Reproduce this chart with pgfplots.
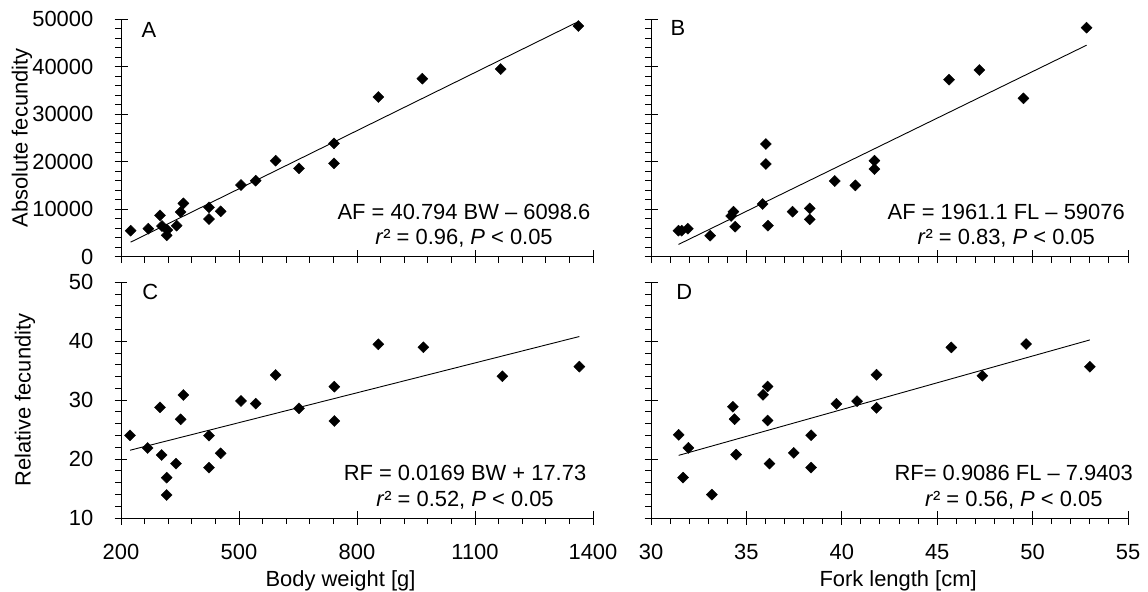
\documentclass[border=0pt]{standalone}
\usepackage{pgfplots}
\pgfplotsset{compat=1.18}
\usepackage{fontspec}
\setmainfont{Liberation Sans}

\newcommand{\fs}{\fontsize{22}{27}\selectfont}

\pgfplotsset{
  panel/.style={
    scale only axis,
    anchor=south west,
    axis x line=bottom,
    axis y line=left,
    axis line style={-, line width=1bp},
    every tick/.style={black, line width=1bp},
    tick align=center,
    major tick length=13bp,
    minor tick length=6bp,
    minor x tick style={yshift=-3bp},
    minor y tick style={xshift=-3bp},
    minor tick num=4,
    font=\fs,
    ticklabel style={font=\fs, inner sep=0pt},
    yticklabel style={anchor=east, xshift=-21bp},
    xticklabel style={anchor=north, yshift=-19.5bp},
    /pgf/number format/assume math mode=true,
    /pgf/number format/1000 sep={},
    scaled y ticks=false,
    scaled x ticks=false,
    clip=false,
  },
  pts/.style={only marks, mark=square*, mark size=3.9bp,
    mark options={rotate=45, fill=black, draw=black}},
  fit/.style={black, line width=0.9bp, no marks},
}

\begin{document}
\begin{tikzpicture}
\useasboundingbox (0,0) rectangle (1148bp,592bp);

% A: absolute fecundity vs body weight
\begin{axis}[panel,
  at={(121bp,335.3bp)}, width=472bp, height=237.5bp,
  xmin=200, xmax=1400, xtick={200,500,800,1100,1400}, xticklabels={},
  ymin=0, ymax=50000, ytick={0,10000,...,50000},
  ylabel={Absolute fecundity},
  every axis y label/.style={at={(axis description cs:-0.2097,0.5)}, rotate=90, anchor=center},
]
\addplot[pts] coordinates {
 (224.6,5474) (269.5,5895) (299.1,8702) (304.2,6456) (318.0,5614) (316.1,4491)
 (341.5,6527) (351.7,9404) (358.5,11229) (423.7,10386) (423.7,7930) (453.4,9544)
 (505.1,15088) (542.4,16001) (593.2,20211) (652.5,18598) (741.5,23861) (741.5,19650)
 (854.2,33616) (966.1,37476) (1165.3,39511) (1362.7,48564)
};
\addplot[fit] coordinates {(224.6,3064) (1362.7,49492)};
\node[anchor=west] at (rel axis cs:0.036,0.9545) {A};
\node[anchor=base] at (rel axis cs:0.7267,0.1587) {AF = 40.794 BW – 6098.6};
\node[anchor=base] at (rel axis cs:0.7267,0.0493) {\textit{r}² = 0.96, \textit{P} < 0.05};
\end{axis}

% B: absolute fecundity vs fork length
\begin{axis}[panel,
  at={(651bp,335.3bp)}, width=477bp, height=237.5bp,
  xmin=30, xmax=55, xtick={30,35,...,55}, xticklabels={},
  ymin=0, ymax=50000, ytick={0,10000,...,50000}, yticklabels={},
]
\addplot[pts] coordinates {
 (31.44,5474) (31.61,5474) (31.93,5895) (33.10,4421) (34.20,8562) (34.32,9474)
 (34.41,6316) (35.85,11088) (36.02,23721) (36.02,19510) (36.13,6527) (37.42,9474)
 (38.32,10176) (38.32,7860) (39.63,15931) (40.71,15019) (41.71,20212) (41.71,18457)
 (45.62,37266) (47.21,39300) (49.52,33340) (52.83,48217)
};
\addplot[fit] coordinates {(31.44,2581) (52.83,44529)};
\node[anchor=west] at (rel axis cs:0.0336,0.961) {B};
\node[anchor=base] at (rel axis cs:0.7447,0.1587) {AF = 1961.1 FL – 59076};
\node[anchor=base] at (rel axis cs:0.7447,0.0493) {\textit{r}² = 0.83, \textit{P} < 0.05};
\end{axis}

% C: relative fecundity vs body weight
\begin{axis}[panel,
  at={(121bp,74bp)}, width=472bp, height=235.7bp,
  xmin=200, xmax=1400, xtick={200,500,800,1100,1400},
  ymin=10, ymax=50, ytick={10,20,...,50},
  xlabel={Body weight [g]},
  every axis x label/.style={at={(axis description cs:0.465,-0.2927)}, anchor=base},
  ylabel={Relative fecundity},
  every axis y label/.style={at={(axis description cs:-0.2034,0.5)}, rotate=90, anchor=center},
]
\addplot[pts] coordinates {
 (222.9,24.03) (267.8,21.88) (299.1,28.78) (303.4,20.69) (316.1,16.85) (316.1,13.90)
 (339.8,19.22) (351.7,26.75) (358.5,30.88) (423.7,23.97) (423.7,18.54) (453.4,20.98)
 (505.1,29.86) (542.4,29.41) (593.2,34.27) (652.5,28.61) (742.4,32.29) (742.4,26.46)
 (854.2,39.48) (968.7,38.97) (1169.5,34.05) (1365.3,35.69)
};
\addplot[fit] coordinates {(222.9,21.50) (1365.3,40.80)};
\node[anchor=west] at (rel axis cs:0.038,0.959) {C};
\node[anchor=base] at (rel axis cs:0.7288,0.16) {RF = 0.0169 BW + 17.73};
\node[anchor=base] at (rel axis cs:0.7288,0.0496) {\textit{r}² = 0.52, \textit{P} < 0.05};
\end{axis}

% D: relative fecundity vs fork length
\begin{axis}[panel,
  at={(651bp,74bp)}, width=477bp, height=235.7bp,
  xmin=30, xmax=55, xtick={30,35,...,55},
  ymin=10, ymax=50, ytick={10,20,...,50}, yticklabels={},
  xlabel={Fork length [cm]},
  every axis x label/.style={at={(axis description cs:0.518,-0.2927)}, anchor=base},
]
\addplot[pts] coordinates {
 (31.45,24.11) (31.68,16.86) (31.96,21.90) (33.19,13.97) (34.29,28.87) (34.38,26.77)
 (34.46,20.76) (35.87,30.91) (36.11,32.32) (36.11,26.54) (36.21,19.24) (37.48,21.05)
 (38.39,24.05) (38.39,18.56) (39.72,29.38) (40.80,29.83) (41.82,34.31) (41.82,28.70)
 (45.74,38.95) (47.37,34.14) (49.66,39.52) (53.0,35.67)
};
\addplot[fit] coordinates {(31.45,20.63) (53.0,40.22)};
\node[anchor=west] at (rel axis cs:0.0456,0.959) {D};
\node[anchor=base] at (rel axis cs:0.7605,0.16) {RF= 0.9086 FL – 7.9403};
\node[anchor=base] at (rel axis cs:0.7605,0.0496) {\textit{r}² = 0.56, \textit{P} < 0.05};
\end{axis}
\end{tikzpicture}
\end{document}
